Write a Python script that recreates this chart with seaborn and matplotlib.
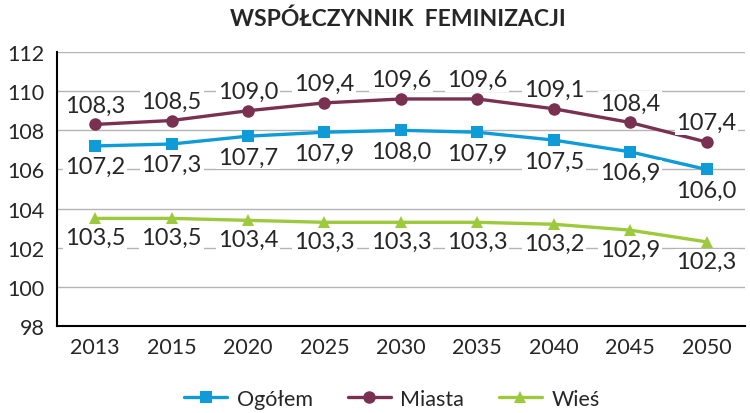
import matplotlib
matplotlib.use("Agg")
import matplotlib.pyplot as plt
import seaborn as sns
import pandas as pd

# dane
lata = ["2013", "2015", "2020", "2025", "2030", "2035", "2040", "2045", "2050"]
ogolem = [107.2, 107.3, 107.7, 107.9, 108.0, 107.9, 107.5, 106.9, 106.0]
miasta = [108.3, 108.5, 109.0, 109.4, 109.6, 109.6, 109.1, 108.4, 107.4]
wies = [103.5, 103.5, 103.4, 103.3, 103.3, 103.3, 103.2, 102.9, 102.3]

serie = ["Ogółem", "Miasta", "Wieś"]
kolory = {"Ogółem": "#0f9bd7", "Miasta": "#7a3050", "Wieś": "#9dca3c"}
markery = {"Ogółem": "s", "Miasta": "o", "Wieś": "^"}

df = pd.DataFrame({
    "poz": list(range(len(lata))) * 3,
    "wartosc": ogolem + miasta + wies,
    "seria": [s for s in serie for _ in lata],
})

sns.set_style("white")
plt.rcParams["font.family"] = ["Lato", "DejaVu Sans"]

fig = plt.figure(figsize=(7.5, 4.14), dpi=100)
ax = fig.add_axes([0.076, 0.21, 0.917, 0.662])

sns.lineplot(data=df, x="poz", y="wartosc", hue="seria", style="seria",
             palette=kolory, markers=markery, dashes=False, ax=ax,
             linewidth=2.4, markersize=9, markeredgewidth=0, zorder=3)

# etykiety danych
przesuniecia = {"Ogółem": -15, "Miasta": 14, "Wieś": -14}
for s, wart in zip(serie, [ogolem, miasta, wies]):
    for i, v in enumerate(wart):
        ax.annotate(f"{v:.1f}".replace(".", ","), (i, v),
                    xytext=(0, przesuniecia[s]), textcoords="offset points",
                    ha="center", va="center", fontsize=17, color="#262626",
                    bbox=dict(boxstyle="square,pad=0.08", fc="white", ec="none"),
                    zorder=5)

ax.set_xlim(-0.5, len(lata) - 0.5)
ax.set_ylim(98, 112)
ax.set_yticks(range(98, 113, 2))
ax.set_xticks(range(len(lata)))
ax.set_xticklabels(lata)
ax.tick_params(axis="both", labelsize=15.5, colors="#262626", length=0)
ax.tick_params(axis="y", pad=9)
ax.tick_params(axis="x", pad=8)
ax.set_xlabel("")
ax.set_ylabel("")

ax.grid(axis="y", color="#b4b4b4", linewidth=1)
ax.set_axisbelow(True)
for k in ["top", "right"]:
    ax.spines[k].set_visible(False)
for k in ["left", "bottom"]:
    ax.spines[k].set_color("black")
    ax.spines[k].set_linewidth(1.5)

fig.suptitle("WSPÓŁCZYNNIK  FEMINIZACJI", x=0.53, y=0.98,
             fontsize=16.5, fontweight="bold", color="#262626")

ax.legend(loc="center", bbox_to_anchor=(0.487, -0.266), ncol=3,
          frameon=False, fontsize=15.5, handlelength=2.0, columnspacing=1.6,
          handletextpad=0.45)

fig.savefig("out.png", dpi=100)
